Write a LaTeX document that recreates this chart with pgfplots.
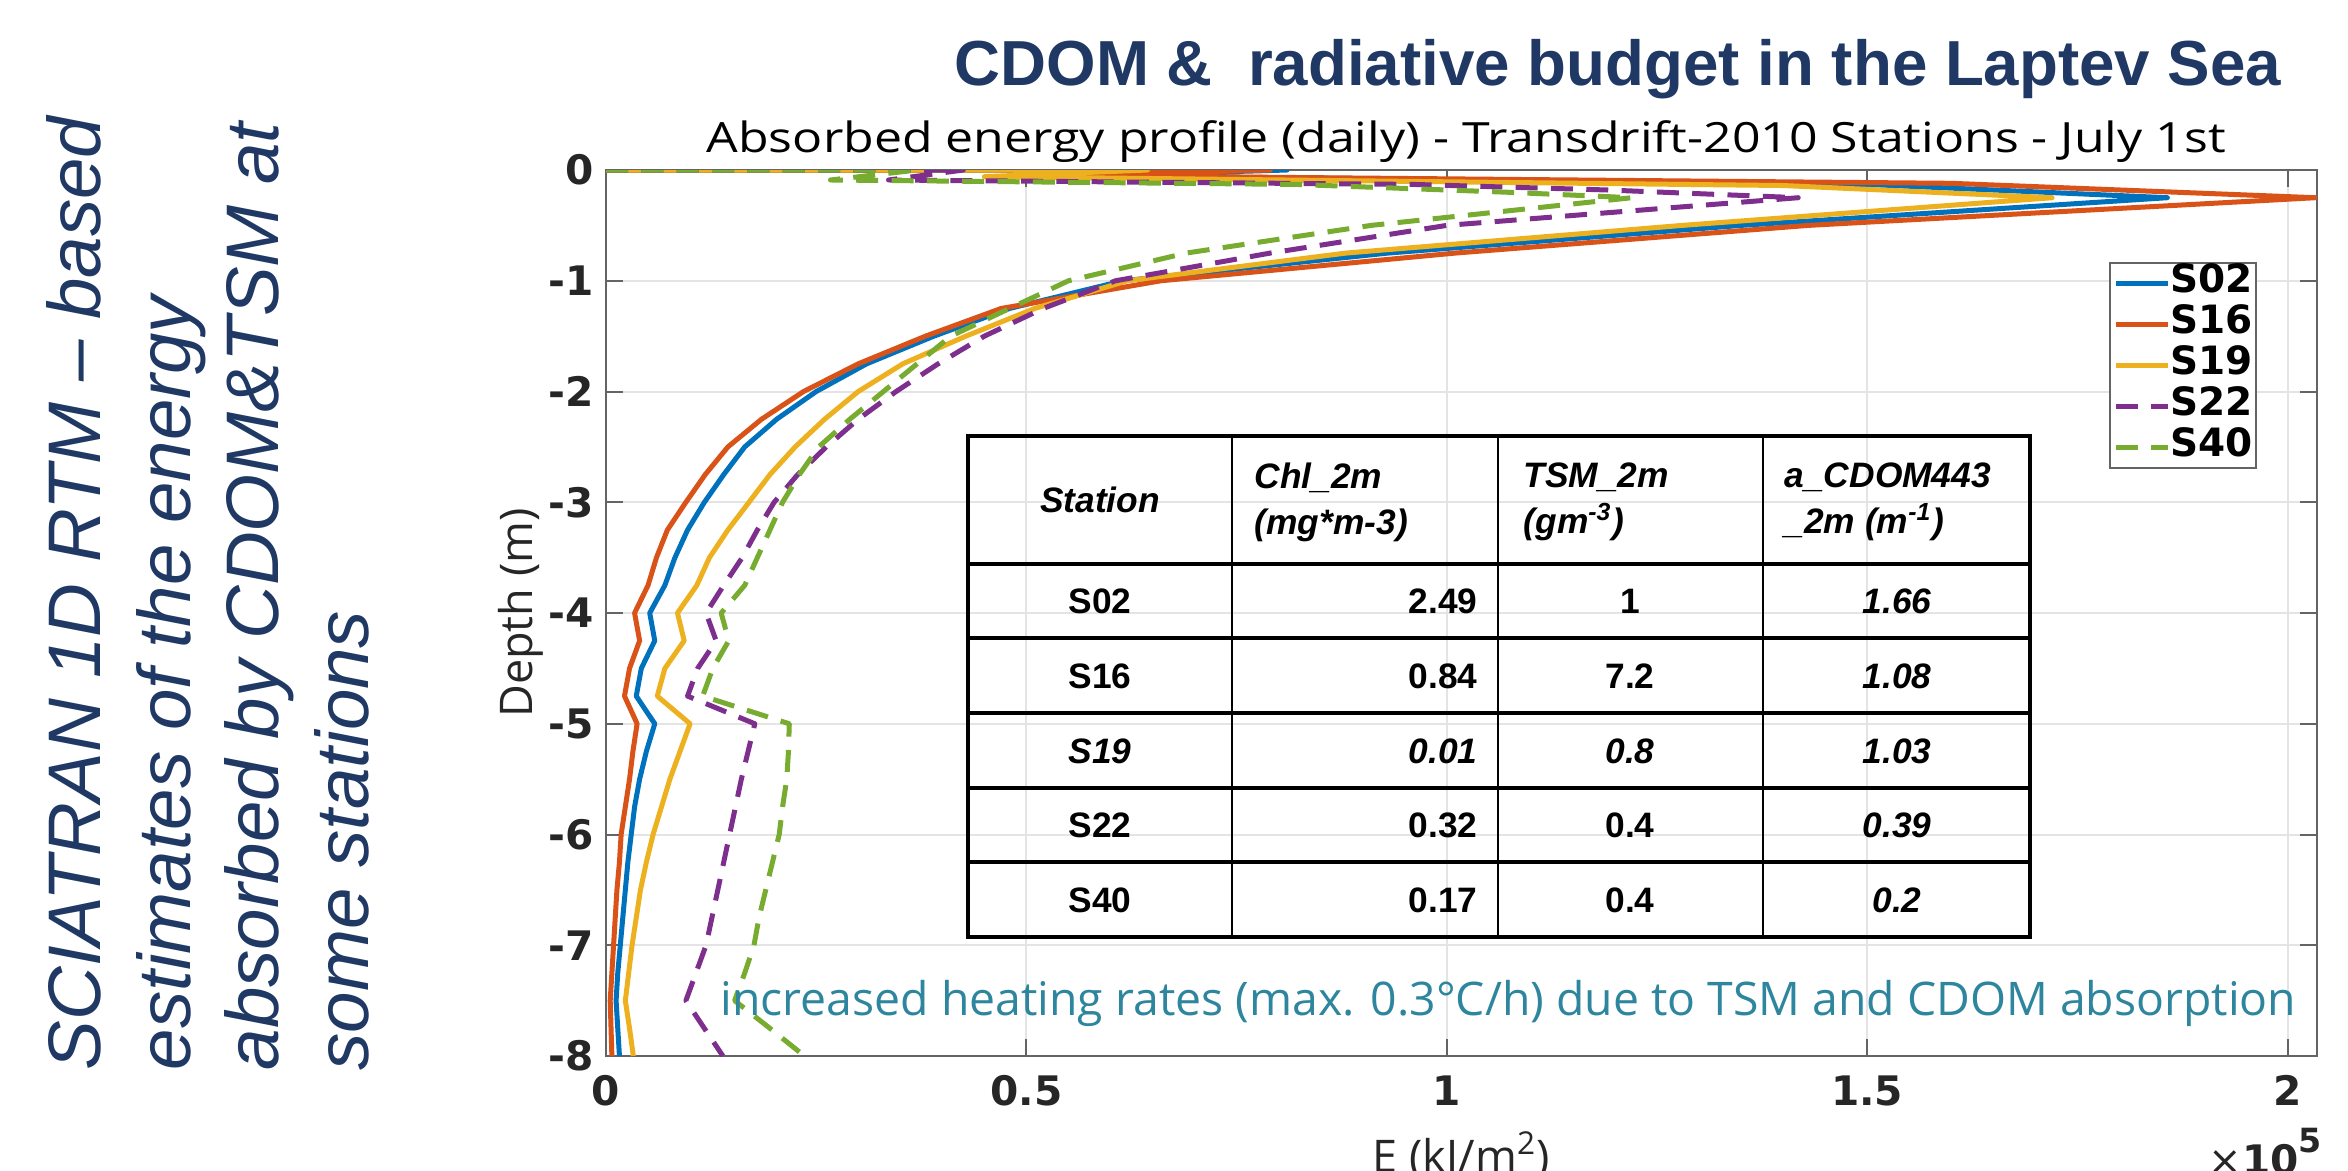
\documentclass[border=0pt]{standalone}
\usepackage{fontspec}
\usepackage{pgfplots}
\pgfplotsset{compat=1.18}
\setmainfont{Open Sans}
\newfontfamily\dvs{DejaVu Sans}
\newfontfamily\libs{Liberation Sans}
\newfontfamily\subfont{Open Sans}[FakeStretch=1.2]
\definecolor{mblue}{rgb}{0,0.447,0.741}
\definecolor{morange}{rgb}{0.85,0.325,0.098}
\definecolor{myellow}{rgb}{0.929,0.694,0.125}
\definecolor{mpurple}{rgb}{0.494,0.184,0.556}
\definecolor{mgreen}{rgb}{0.466,0.674,0.188}
\definecolor{navy}{RGB}{31,56,100}
\definecolor{tealtxt}{RGB}{46,134,158}
\definecolor{axgray}{RGB}{100,100,100}
\definecolor{gridgray}{RGB}{228,228,228}
\definecolor{tickcol}{RGB}{38,38,38}
\newcommand{\tickfont}{\dvs\bfseries\fontsize{12.2}{12.2}\selectfont}
\newcommand{\legfont}{\dvs\bfseries\fontsize{11.7}{11.7}\selectfont}
\newcommand{\tabfont}{\libs\bfseries\fontsize{10.6}{13.8}\selectfont}
\begin{document}
\begin{tikzpicture}
\useasboundingbox (0,0) rectangle (704.4pt,-351pt);
\begin{axis}[
  at={(181.8pt,-316.8pt)}, anchor=south west,
  scale only axis, width=513.3pt, height=265.8pt,
  xmin=0, xmax=2.035, ymin=-8, ymax=0,
  xtick={0,0.5,1,1.5,2}, xticklabels={0,0.5,1,1.5,2},
  ytick={-8,-7,-6,-5,-4,-3,-2,-1,0}, yticklabels={-8,-7,-6,-5,-4,-3,-2,-1,0},
  tick align=inside, major tick length=5pt,
  grid=major, grid style={draw=gridgray, line width=0.6pt},
  axis line style={draw=axgray, line width=0.6pt},
  every tick/.style={draw=axgray, line width=0.6pt},
  ticklabel style={font=\tickfont, text=tickcol},
  xticklabel style={yshift=-2.3pt},
  yticklabel style={xshift=-0.2pt},
  xlabel={E (kJ/m\textsuperscript{2})},
  ylabel={Depth (m)},
  label style={font=\fontsize{13.5}{13.5}\selectfont, text=tickcol},
  xlabel style={at={(axis description cs:0.5,-0.131)}, anchor=base},
  ylabel style={at={(axis description cs:-0.0432,0.5)}, anchor=base},
  legend style={at={(axis description cs:0.8784,0.896)}, anchor=north west,
    draw=axgray, fill=white, line width=0.6pt, font=\legfont,
    inner xsep=1pt, inner ysep=0pt, row sep=0pt,
    nodes={inner sep=0pt, text height=8.9pt, text depth=3.4pt}},
  legend cell align=left,
  legend image code/.code={\draw[#1] (0pt,0pt) -- (15.6pt,0pt);},
  /tikz/every even column/.append style={column sep=2pt},
  every axis plot/.append style={line width=1.5pt, line join=round},
]
\addplot[mblue] coordinates {(0,0)(0.81,0)(0.58,-0.05)(1.5,-0.13)(1.857,-0.25)(1.35,-0.5)(0.93,-0.75)(0.615,-1)(0.48,-1.25)(0.39,-1.5)(0.31,-1.75)(0.25,-2)(0.203,-2.25)(0.165,-2.5)(0.14,-2.75)(0.117,-3)(0.097,-3.25)(0.082,-3.5)(0.07,-3.75)(0.052,-4)(0.058,-4.25)(0.042,-4.5)(0.036,-4.75)(0.058,-5)(0.048,-5.25)(0.040,-5.5)(0.034,-5.75)(0.030,-6)(0.026,-6.25)(0.023,-6.5)(0.020,-6.75)(0.017,-7)(0.014,-7.25)(0.012,-7.5)(0.014,-7.75)(0.016,-8)};
\addlegendentry{S02}
\addplot[morange] coordinates {(0,0)(0.79,0)(0.56,-0.05)(1.6,-0.12)(2.033,-0.25)(1.43,-0.5)(1.01,-0.75)(0.66,-1)(0.47,-1.25)(0.38,-1.5)(0.30,-1.75)(0.235,-2)(0.185,-2.25)(0.145,-2.5)(0.118,-2.75)(0.095,-3)(0.073,-3.25)(0.060,-3.5)(0.050,-3.75)(0.034,-4)(0.040,-4.25)(0.028,-4.5)(0.022,-4.75)(0.037,-5)(0.032,-5.25)(0.028,-5.5)(0.023,-5.75)(0.018,-6)(0.016,-6.25)(0.013,-6.5)(0.011,-6.75)(0.009,-7)(0.007,-7.25)(0.005,-7.5)(0.006,-7.75)(0.007,-8)};
\addlegendentry{S16}
\addplot[myellow] coordinates {(0,0)(0.644,0)(0.45,-0.06)(1.4,-0.14)(1.72,-0.25)(1.28,-0.5)(0.88,-0.75)(0.62,-1)(0.51,-1.25)(0.428,-1.5)(0.353,-1.75)(0.30,-2)(0.26,-2.25)(0.225,-2.5)(0.195,-2.75)(0.17,-3)(0.145,-3.25)(0.123,-3.5)(0.108,-3.75)(0.085,-4)(0.093,-4.25)(0.07,-4.5)(0.061,-4.75)(0.10,-5)(0.088,-5.25)(0.076,-5.5)(0.066,-5.75)(0.056,-6)(0.048,-6.25)(0.041,-6.5)(0.036,-6.75)(0.031,-7)(0.027,-7.25)(0.023,-7.5)(0.028,-7.75)(0.0325,-8)};
\addlegendentry{S19}
\addplot[mpurple, dash pattern=on 6.6pt off 4pt] coordinates {(0,0)(0.425,0)(0.336,-0.09)(0.96,-0.13)(1.19,-0.18)(1.418,-0.25)(1.0,-0.5)(0.79,-0.75)(0.606,-1)(0.52,-1.25)(0.45,-1.5)(0.395,-1.75)(0.345,-2)(0.30,-2.25)(0.262,-2.5)(0.228,-2.75)(0.20,-3)(0.18,-3.25)(0.162,-3.5)(0.14,-3.75)(0.119,-4)(0.131,-4.25)(0.109,-4.5)(0.097,-4.75)(0.177,-5)(0.169,-5.25)(0.161,-5.5)(0.154,-5.75)(0.147,-6)(0.140,-6.25)(0.133,-6.5)(0.126,-6.75)(0.119,-7)(0.107,-7.25)(0.095,-7.5)(0.117,-7.75)(0.139,-8)};
\addlegendentry{S22}
\addplot[mgreen, dash pattern=on 6.6pt off 4pt] coordinates {(0,0)(0.37,0)(0.267,-0.09)(0.82,-0.13)(1.07,-0.2)(1.22,-0.25)(0.91,-0.5)(0.69,-0.75)(0.55,-1)(0.48,-1.25)(0.41,-1.5)(0.37,-1.75)(0.33,-2)(0.29,-2.25)(0.253,-2.5)(0.23,-2.75)(0.21,-3)(0.195,-3.25)(0.18,-3.5)(0.165,-3.75)(0.137,-4)(0.146,-4.25)(0.127,-4.5)(0.115,-4.75)(0.218,-5)(0.217,-5.25)(0.215,-5.5)(0.21,-5.75)(0.206,-6)(0.198,-6.25)(0.19,-6.5)(0.182,-6.75)(0.176,-7)(0.165,-7.25)(0.153,-7.5)(0.195,-7.75)(0.236,-8)};
\addlegendentry{S40}
\end{axis}
\begin{scope}[x=0.3pt,y=-0.3pt]
% titles
\node[anchor=base west, inner sep=0pt, text=navy, font=\libs\bfseries\fontsize{19.1}{19.1}\selectfont] at (954,85) {CDOM \&\ \ radiative budget in the Laptev Sea};
\node[anchor=base west, inner sep=0pt, font=\subfont\fontsize{12.5}{12.5}\selectfont] at (706,152) {Absorbed energy profile (daily) - Transdrift-2010 Stations - July 1st};
% left rotated text
\begin{scope}[every node/.style={rotate=90, anchor=base west, inner sep=0pt, text=navy, font=\libs\itshape\fontsize{22.35}{22.35}\selectfont}]
\node at (100,1071) {SCIATRAN 1D RTM – based};
\node at (190,1071) {estimates of the energy};
\node at (278,1071) {absorbed by CDOM\&TSM at};
\node at (368,1071) {some stations};
\end{scope}
% x10^5
\node[anchor=base west, inner sep=0pt, text=tickcol] at (2208,1174) {{\dvs\fontsize{12}{12}\selectfont ×}{\tickfont 10}\raisebox{6.5pt}{\dvs\bfseries\fontsize{10}{10}\selectfont 5}};
% annotation
\node[anchor=base west, inner sep=0pt, text=tealtxt, font=\fontsize{13.9}{13.9}\selectfont] at (720,1015) {increased heating rates (max. 0.3°C/h) due to TSM and CDOM absorption};
% table
\draw[line width=1pt, black] (968,436) rectangle (2030,937);
\foreach \yy in {564,638,713,788,862} \draw[line width=1pt] (968,\yy) -- (2030,\yy);
\foreach \xx in {1232,1498,1763} \draw[line width=0.8pt] (\xx,436) -- (\xx,937);
\begin{scope}[every node/.style={inner sep=0pt, font=\tabfont}]
\node at (1100,500) {\itshape Station};
\node[anchor=west, align=left] at (1254,502) {\itshape Chl\_2m\\\itshape (mg*m-3)};
\node[anchor=west, align=left] at (1523,502) {\itshape TSM\_2m\\\itshape (gm\textsuperscript{-3})};
\node[anchor=west, align=left] at (1784,502) {\itshape a\_CDOM443\\\itshape \_2m (m\textsuperscript{-1})};
\node at (1100,601) {S02}; \node[anchor=east] at (1478,601) {2.49}; \node at (1630,601) {1}; \node at (1897,601) {\itshape 1.66};
\node at (1100,676) {S16}; \node[anchor=east] at (1478,676) {0.84}; \node at (1630,676) {7.2}; \node at (1897,676) {\itshape 1.08};
\node at (1100,751) {\itshape S19}; \node[anchor=east] at (1478,751) {\itshape 0.01}; \node at (1630,751) {\itshape 0.8}; \node at (1897,751) {\itshape 1.03};
\node at (1100,825) {S22}; \node[anchor=east] at (1478,825) {0.32}; \node at (1630,825) {0.4}; \node at (1897,825) {\itshape 0.39};
\node at (1100,900) {S40}; \node[anchor=east] at (1478,900) {0.17}; \node at (1630,900) {0.4}; \node at (1897,900) {\itshape 0.2};
\end{scope}
\end{scope}
\end{tikzpicture}
\end{document}
